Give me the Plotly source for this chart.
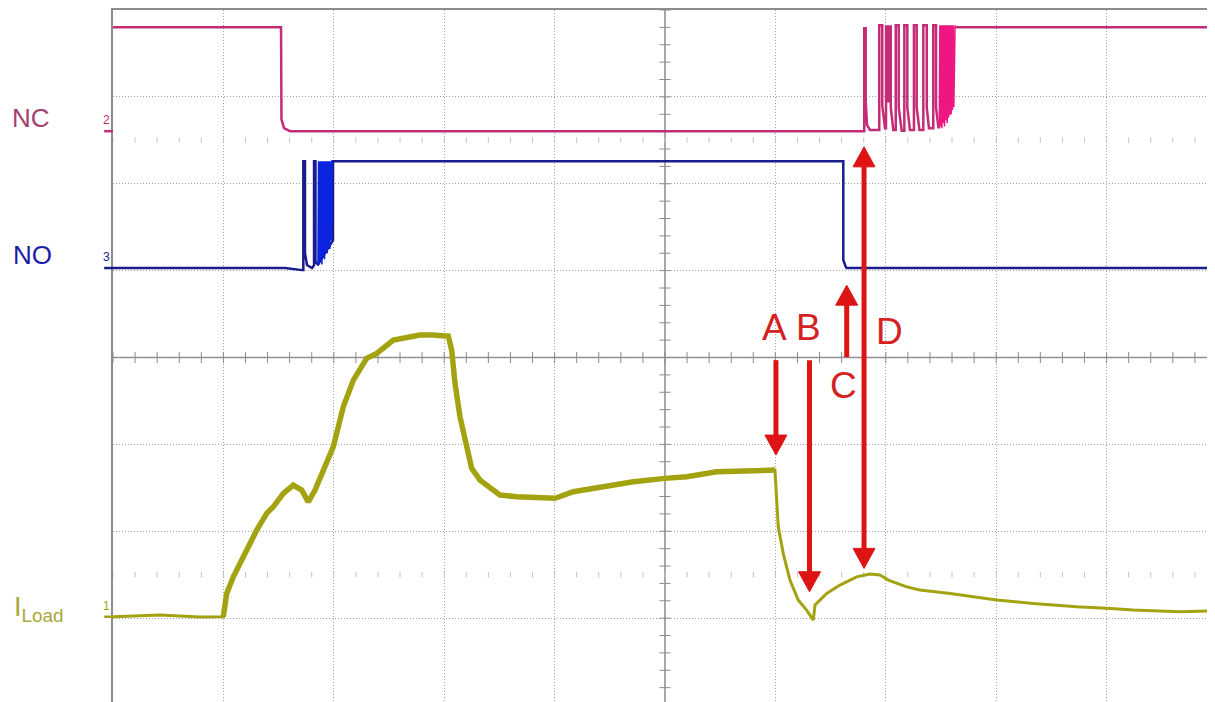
#!/usr/bin/env python3
# Relay contact timing: NC / NO contact voltages and load current, scope capture
import numpy as np
import plotly.graph_objects as go

# time axis in screen divisions (0 = left edge), levels in divisions (0 = bottom)
nc_t = [0.0, 1.522, 1.526, 1.549, 1.603, 6.805, 6.805, 6.818, 6.818, 6.830, 6.857,
        6.941, 6.941, 6.968, 6.968, 6.993, 7.002, 7.002, 7.014, 7.014, 7.032, 7.032,
        7.045, 7.045, 7.068, 7.090, 7.090, 7.117, 7.117, 7.144, 7.168, 7.168, 7.195,
        7.195, 7.219, 7.255, 7.255, 7.280, 7.280, 7.305, 7.340, 7.340, 7.371, 7.371,
        7.391, 7.430, 7.430, 7.455, 7.455, 7.477, 7.485]
nc_v = [7.802, 7.802, 6.740, 6.640, 6.605, 6.605, 7.790, 7.790, 6.962, 6.674, 6.620,
        6.620, 7.825, 7.825, 6.900, 6.640, 6.640, 7.810, 7.810, 6.950, 6.950, 7.810,
        7.810, 6.880, 6.620, 6.620, 7.825, 7.825, 6.880, 6.610, 6.610, 7.825, 7.825,
        6.880, 6.620, 6.620, 7.825, 7.825, 6.880, 6.620, 6.620, 7.825, 7.825, 6.880,
        6.640, 6.640, 7.825, 7.825, 6.880, 6.640, 6.660]
# contact bounce burst just before NC settles closed
nc_burst_t = [7.485, 7.490, 7.496, 7.502, 7.508, 7.514, 7.520, 7.526, 7.532, 7.538,
              7.544, 7.550, 7.556, 7.562, 7.568, 7.574, 7.580, 7.586, 7.592, 7.598,
              7.604, 7.610, 7.616, 7.622, 7.627]
nc_burst_v = [6.660, 7.825, 6.660, 7.825, 6.640, 7.825, 6.700, 7.825, 6.660, 7.825,
              6.730, 7.825, 6.700, 7.825, 6.760, 7.825, 6.790, 7.825, 6.800, 7.825,
              6.850, 7.825, 6.880, 7.825, 7.825]
nc_tail_t = [7.627, 9.982]
nc_tail_v = [7.802, 7.802]

no_t = [0.0, 1.558, 1.712, 1.724, 1.724, 1.739, 1.739, 1.757, 1.803, 1.821, 1.821,
        1.834, 1.834, 1.857, 1.993, 1.993, 6.615, 6.615, 6.637, 6.645, 9.982]
no_v = [5.030, 5.030, 5.006, 5.006, 6.260, 6.260, 5.200, 5.064, 5.030, 5.064, 6.260,
        6.260, 5.100, 5.070, 5.350, 6.260, 6.260, 5.121, 5.045, 5.029, 5.029]
no_burst_t = [1.857, 1.862, 1.868, 1.874, 1.880, 1.886, 1.892, 1.898, 1.904, 1.910,
              1.916, 1.922, 1.928, 1.934, 1.940, 1.946, 1.952, 1.958, 1.964, 1.970,
              1.976, 1.984, 1.993]
no_burst_v = [5.070, 6.260, 5.070, 6.260, 5.120, 6.260, 5.070, 6.260, 5.180, 6.260,
              5.130, 6.260, 5.235, 6.260, 5.200, 6.260, 5.293, 6.260, 5.250, 6.260,
              5.350, 6.260, 6.260]

i_t = [0.0, 0.426, 0.788, 0.999, 1.030, 1.090, 1.150, 1.211, 1.302, 1.392, 1.452,
       1.543, 1.633, 1.709, 1.769, 1.830, 1.905, 1.995, 2.086, 2.177, 2.298, 2.389,
       2.539, 2.690, 2.781, 2.899, 3.037, 3.068, 3.098, 3.143, 3.204, 3.249, 3.324,
       3.415, 3.505, 3.657, 3.868, 4.004, 4.169, 4.411, 4.713, 5.000, 5.197, 5.468,
       5.770, 5.996, 6.005, 6.026, 6.071, 6.132, 6.207, 6.283, 6.343, 6.359, 6.465,
       6.585, 6.736, 6.857, 6.947, 7.023, 7.189, 7.310, 7.582, 8.005, 8.333, 8.729,
       9.001, 9.242, 9.665, 9.982]
i_v = [1.016, 1.036, 1.013, 1.016, 1.285, 1.476, 1.630, 1.803, 2.014, 2.206, 2.282,
       2.436, 2.532, 2.474, 2.339, 2.474, 2.704, 2.972, 3.433, 3.740, 3.990, 4.047,
       4.200, 4.238, 4.258, 4.258, 4.246, 4.085, 3.702, 3.318, 2.934, 2.724, 2.589,
       2.494, 2.417, 2.397, 2.379, 2.379, 2.455, 2.512, 2.570, 2.609, 2.627, 2.685,
       2.704, 2.704, 2.474, 2.052, 1.746, 1.438, 1.208, 1.093, 0.978, 1.151, 1.285,
       1.381, 1.476, 1.507, 1.496, 1.438, 1.361, 1.323, 1.285, 1.208, 1.170, 1.131,
       1.113, 1.093, 1.074, 1.085]

channel_names = ['2', '3', '1']
channel_offsets = [6.605, 5.030, 1.016]

# event markers A-D: label position and arrow (tail -> tip)
ev_labels = ['A', 'B', 'C', 'D']
ev_label_t = [5.996, 6.298, 6.615, 7.038]
ev_label_v = [4.350, 4.350, 3.682, 4.296]
ev_arrow_t = [6.005, 6.309, 6.646, 6.803]
ev_arrow_from = [3.970, 3.970, 4.005, 6.425]
ev_arrow_to = [2.877, 1.304, 4.833, 1.573]
ev_double = [False, False, False, True]

NC_COL = '#c42c78'
NC_BURST = '#ee1782'
NO_COL = '#1b1b8e'
NO_BURST = '#0a24e0'
I_COL = '#a3a312'
RED = '#de1414'
GRAT = '#8c8c8c'
FONT = 'Liberation Sans, Arial, sans-serif'

X_MAX = 9.982
Y_MIN = 0.035
# the page body adds an 8px offset, so the figure is 8px smaller and margins 8px tighter
W, H = 1207, 694
ML, MT = 105, 2
PW = W - ML          # plot area width in px
PH = H - MT
PX_PER_DIV = PW / X_MAX
PY_PER_DIV = PH / (8 - Y_MIN)

HEAD_HALF_W = 11 / PX_PER_DIV   # arrow head half width, in divisions
HEAD_LEN = 20 / PY_PER_DIV      # arrow head length, in divisions


def paper_x(div):
    return div * PX_PER_DIV / PW


def head_path(t, tip, direction):
    base = tip - direction * HEAD_LEN
    return (f'M{t - HEAD_HALF_W},{base} L{t + HEAD_HALF_W},{base} L{t},{tip} Z')


fig = go.Figure()

# graticule minor ticks on the centre axes and the dotted marker rows
minor = np.arange(0, 10.01, 0.2)
fig.add_trace(go.Scatter(x=minor, y=[4] * len(minor), mode='markers',
                         marker=dict(symbol='line-ns', size=8, line=dict(color=GRAT, width=1)),
                         hoverinfo='skip'))
minor_y = np.arange(0, 8.01, 0.2)
fig.add_trace(go.Scatter(x=[5] * len(minor_y), y=minor_y, mode='markers',
                         marker=dict(symbol='line-ew', size=8, line=dict(color=GRAT, width=1)),
                         hoverinfo='skip'))
for row in (1.5, 6.5):
    fig.add_trace(go.Scatter(x=minor, y=[row] * len(minor), mode='markers',
                             marker=dict(symbol='line-ns', size=4, line=dict(color='#c4c4c4', width=1)),
                             hoverinfo='skip'))

# load current (noisy part drawn thicker)
fig.add_trace(go.Scatter(x=i_t, y=i_v, mode='lines', line=dict(color=I_COL, width=3)))
fig.add_trace(go.Scatter(x=i_t[3:46], y=i_v[3:46], mode='lines', line=dict(color=I_COL, width=5.5)))

# NO contact
fig.add_trace(go.Scatter(x=no_t, y=no_v, mode='lines', line=dict(color=NO_COL, width=2.5)))
fig.add_trace(go.Scatter(x=no_burst_t, y=no_burst_v, mode='lines', line=dict(color=NO_BURST, width=1.6)))

# NC contact
fig.add_trace(go.Scatter(x=nc_t, y=nc_v, mode='lines', line=dict(color=NC_COL, width=2.5)))
fig.add_trace(go.Scatter(x=nc_burst_t, y=nc_burst_v, mode='lines', line=dict(color=NC_BURST, width=1.6)))
fig.add_trace(go.Scatter(x=nc_tail_t, y=nc_tail_v, mode='lines', line=dict(color=NC_COL, width=2.5)))

ch_cols = [NC_COL, NO_COL, I_COL]
ann = []
shapes = [
    dict(type='line', xref='x', yref='y', x0=5, x1=5, y0=Y_MIN, y1=8,
         line=dict(color=GRAT, width=1.5), layer='below'),
    dict(type='line', xref='x', yref='y', x0=0, x1=X_MAX, y0=4, y1=4,
         line=dict(color=GRAT, width=1.5), layer='below'),
]
# channel ground markers left of the screen
for name, off, col in zip(channel_names, channel_offsets, ch_cols):
    ann.append(dict(x=paper_x(-0.06), y=off, xref='paper', yref='y', text=name, showarrow=False,
                    xanchor='center', yanchor='bottom', yshift=2,
                    font=dict(family=FONT, size=12, color=col)))
    shapes.append(dict(type='line', xref='paper', yref='y', x0=paper_x(-0.08), x1=0,
                       y0=off, y1=off, line=dict(color=col, width=2.5)))

ann.append(dict(x=paper_x(-0.743), y=6.761, xref='paper', yref='y', text='NC', showarrow=False,
                xanchor='center', font=dict(family=FONT, size=26, color='#a5416e')))
ann.append(dict(x=paper_x(-0.725), y=5.184, xref='paper', yref='y', text='NO', showarrow=False,
                xanchor='center', font=dict(family=FONT, size=26, color='#1c1ca6')))
ann.append(dict(x=paper_x(-0.915), y=1.10, xref='paper', yref='y', text='I<sub>Load</sub>',
                showarrow=False, xanchor='left', font=dict(family=FONT, size=27, color='#a8a83c')))

for lab, lt, lv in zip(ev_labels, ev_label_t, ev_label_v):
    ann.append(dict(x=lt, y=lv, xref='x', yref='y', text=lab, showarrow=False,
                    font=dict(family=FONT, size=37, color='#d42222')))

# red event arrows: shaft line plus filled head(s)
for at, a0, a1, dbl in zip(ev_arrow_t, ev_arrow_from, ev_arrow_to, ev_double):
    d = 1 if a1 > a0 else -1
    s0 = a0 + d * HEAD_LEN * 0.5 if dbl else a0
    shapes.append(dict(type='line', xref='x', yref='y', x0=at, x1=at,
                       y0=s0, y1=a1 - d * HEAD_LEN * 0.5, line=dict(color=RED, width=5)))
    shapes.append(dict(type='path', xref='x', yref='y', path=head_path(at, a1, d),
                       fillcolor=RED, line=dict(color=RED, width=1)))
    if dbl:
        shapes.append(dict(type='path', xref='x', yref='y', path=head_path(at, a0, -d),
                           fillcolor=RED, line=dict(color=RED, width=1)))

fig.update_layout(
    width=W, height=H,
    margin=dict(l=ML, r=0, t=MT, b=0),
    plot_bgcolor='white', paper_bgcolor='white',
    showlegend=False,
    annotations=ann,
    shapes=shapes,
)
fig.update_xaxes(range=[0, X_MAX], showticklabels=False, ticks='', zeroline=False,
                 showgrid=True, gridcolor='#a0a0a0', griddash='1px,2px', gridwidth=1,
                 tick0=0, dtick=1, showline=True, linecolor=GRAT, linewidth=1.5, side='top')
fig.update_yaxes(range=[Y_MIN, 8], showticklabels=False, ticks='', zeroline=False,
                 showgrid=True, gridcolor='#a0a0a0', griddash='1px,2px', gridwidth=1,
                 tick0=0, dtick=1, showline=True, linecolor=GRAT, linewidth=1.5)

fig.write_html("out.html")
